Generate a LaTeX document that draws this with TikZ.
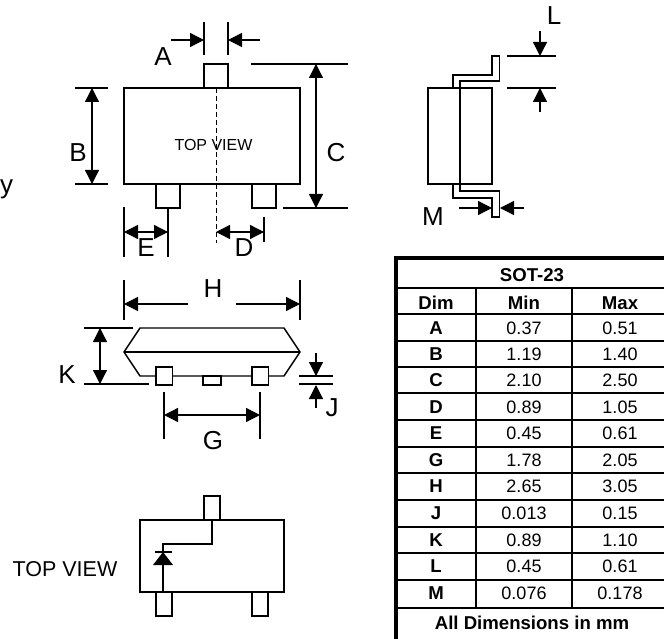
\documentclass[tikz,border=0pt]{standalone}
\usepackage{fontspec}
\setmainfont{Liberation Sans}
\usetikzlibrary{arrows.meta}
\tikzset{
  outline/.style={draw=black,line width=1.4pt,fill=white},
  lead/.style={draw=black,line width=1.4pt},
  ext/.style={draw=black,line width=1.2pt},
  dim/.style={draw=black,line width=1.3pt,{Triangle[length=14pt,width=14pt]}-{Triangle[length=14pt,width=14pt]}},
  arr/.style={draw=black,line width=1.3pt,-{Triangle[length=14pt,width=14pt]}},
  lab/.style={font=\fontsize{26}{26}\selectfont,inner sep=0pt},
  grid/.style={draw=black,line width=1.5pt},
  heavy/.style={draw=black,line width=4pt},
  cellb/.style={font=\bfseries\fontsize{18.6}{18.6}\selectfont,inner sep=0pt},
  cell/.style={font=\fontsize{18}{18}\selectfont,inner sep=0pt},
}
\begin{document}
\begin{tikzpicture}[x=1pt,y=-1pt]
\useasboundingbox (0,0) rectangle (664,639);
% top view
\draw[outline] (124,88) rectangle (300,184);
\draw[outline] (204,64) rectangle (228,88);
\draw[outline] (156,184) rectangle (180,208);
\draw[outline] (252,184) rectangle (276,208);
\node[font=\fontsize{16}{16}\selectfont,inner sep=0pt] (tv) at (213.5,145) {TOP VIEW};
\draw[draw=black,line width=0.9pt,dash pattern=on 5pt off 3pt] (216,88) -- (216,243);
\node[lab] (y) at (6.5,189.5) {y};
% A
\draw[ext] (204,22) -- (204,55); \draw[ext] (228,22) -- (228,55);
\draw[arr] (171,40) -- (204,40); \draw[arr] (260,40) -- (228,40);
\node[lab] (A) at (163,57) {A};
% B
\draw[ext] (75,88) -- (108,88); \draw[ext] (75,184) -- (108,184);
\draw[dim] (92,88) -- (92,184);
\node[lab] (B) at (78,153) {B};
% C
\draw[ext] (251,64) -- (348,64); \draw[ext] (283,208) -- (348,208);
\draw[dim] (316,64) -- (316,208);
\node[lab] (C) at (336,153) {C};
% E D
\draw[ext] (124,207) -- (124,257); \draw[ext] (168,208) -- (168,257);
\draw[dim] (124,232) -- (168,232);
\draw[ext] (264,217) -- (264,242);
\draw[dim] (216,232) -- (264,232);
\node[lab] (E) at (146,248) {E};
\node[lab] (D) at (244,248) {D};
% side view
\draw[outline] (428,88) rectangle (492,184);
\draw[lead] (453,88) -- (453,75) -- (492,75) -- (492,56) -- (499.5,56) -- (499.5,81) -- (460,81) -- (460,191) -- (499.5,191) -- (499.5,217) -- (492,217) -- (492,198) -- (453,198) -- (453,184);
\draw[ext] (507,56) -- (556,56); \draw[ext] (507,88) -- (556,88);
\draw[arr] (540,31) -- (540,56); \draw[arr] (540,112) -- (540,88);
\node[lab] (L) at (554,16) {L};
\draw[arr] (459,208) -- (492,208); \draw[arr] (524,208) -- (500,208);
\node[lab] (M) at (433,217) {M};
% bottom view
\draw[ext] (124,280) -- (124,320); \draw[ext] (300,280) -- (300,320);
\draw[arr] (188,304) -- (124,304); \draw[arr] (236,304) -- (300,304);
\node[lab] (H) at (213,289) {H};
\draw[outline] (140,328) -- (284,328) -- (300,352) -- (284,376) -- (140,376) -- (124,352) -- cycle;
\draw[lead] (124,352) -- (300,352);
\draw[outline] (156,367) rectangle (172.5,385);
\draw[outline] (203,376) rectangle (221,385);
\draw[outline] (252,367) rectangle (268.5,385);
\draw[ext] (84,328) -- (133,328); \draw[ext] (84,384) -- (149,384);
\draw[dim] (100,328) -- (100,384);
\node[lab] (K) at (67,375) {K};
\draw[ext] (299,376) -- (333,376); \draw[ext] (299,384) -- (333,384);
\draw[arr] (316,353) -- (316,376); \draw[arr] (316,408) -- (316,385);
\node[lab] (J) at (332,408) {J};
\draw[ext] (164,392) -- (164,439); \draw[ext] (260,392) -- (260,439);
\draw[dim] (164,415) -- (260,415);
\node[lab] (G) at (213,441) {G};
% schematic
\draw[outline] (140,520) rectangle (284,592);
\draw[outline] (204,496) rectangle (220,520);
\draw[outline] (156,592) rectangle (172,616);
\draw[outline] (252,592) rectangle (268,616);
\draw[lead] (212,520) -- (212,544) -- (163,544) -- (163,552);
\draw[lead] (163,565) -- (163,592);
\draw[lead] (155,552) -- (172,552);
\fill[black] (163,552) -- (173,565) -- (153,565) -- cycle;
\node[font=\fontsize{21.5}{21.5}\selectfont,inner sep=0pt] (tv2) at (65,569) {TOP VIEW};
% table
\foreach \yy in {288,314,341,367,393,420,447,473,500,527,553,580,608} \draw[grid] (397,\yy) -- (664,\yy);
\draw[grid] (476,288) -- (476,608); \draw[grid] (572,288) -- (572,608);
\draw[heavy] (396,258) -- (664,258);
\draw[heavy] (396,256) -- (396,639);
\node[cellb] (t) at (532,275) {SOT-23};
\node[cellb] (h1) at (436,303) {Dim};
\node[cellb] (h2) at (524,303) {Min};
\node[cellb] (h3) at (620,303) {Max};
\foreach \yy/\a/\b/\c in {328/A/0.37/0.51,354/B/1.19/1.40,380.5/C/2.10/2.50,407/D/0.89/1.05,433.5/E/0.45/0.61,460/G/1.78/2.05,486.5/H/2.65/3.05,513/J/0.013/0.15,540/K/0.89/1.10,566.5/L/0.45/0.61,593.5/M/0.076/0.178} {
  \node[cellb] at (436,\yy) {\a};
  \node[cell] at (524,\yy) {\b};
  \node[cell] at (620,\yy) {\c};
}
\node[cellb] (f) at (532,623) {All Dimensions in mm};
\end{tikzpicture}
\end{document}
